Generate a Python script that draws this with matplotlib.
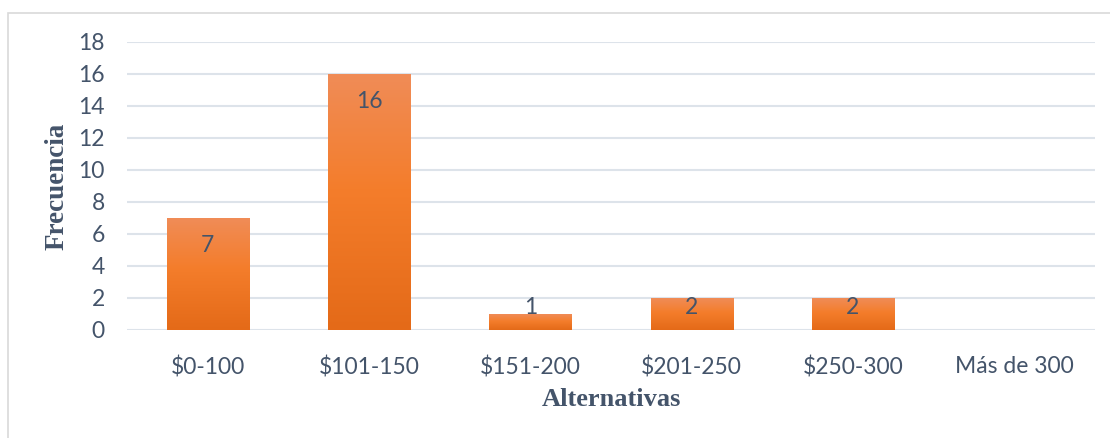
import matplotlib
matplotlib.use("Agg")
import matplotlib.pyplot as plt
import numpy as np
from matplotlib.colors import LinearSegmentedColormap
from matplotlib.patches import Rectangle

# data
categories = ["$0-100", "$101-150", "$151-200", "$201-250", "$250-300", "Más de 300"]
frecuencia = [7, 16, 1, 2, 2, 0]
yticks = list(range(0, 20, 2))

TEXT = "#44546A"
GRID = "#DDE3EA"
grad = LinearSegmentedColormap.from_list(
    "bar", [(0.0, "#E46A18"), (0.55, "#F47D2B"), (1.0, "#F08C57")])

W, H, DPI = 1110, 438, 100
fig = plt.figure(figsize=(W / DPI, H / DPI), dpi=DPI)
ax = fig.add_axes([127 / W, (H - 330) / H, (1095 - 127) / W, 288 / H])

x = np.arange(len(categories))
bars = ax.bar(x, frecuencia, width=0.51, color="none", zorder=3)
# fill each bar with a vertical gradient (lighter at the top like Excel)
gimg = np.linspace(0, 1, 256).reshape(-1, 1)
for b in bars:
    h = b.get_height()
    if h <= 0:
        continue
    x0 = b.get_x()
    im = ax.imshow(gimg, cmap=grad, origin="lower", aspect="auto",
                   extent=[x0, x0 + b.get_width(), 0, h], zorder=3)
    im.set_clip_path(b)

for xi, v in zip(x, frecuencia):
    if v <= 0:
        continue
    ax.text(xi, max(v - 1.69, 1.375), str(v), ha="center", va="center",
            fontsize=16.5, color=TEXT, family="Lato", zorder=4)

ax.set_xlim(-0.5, len(categories) - 0.5)
ax.set_ylim(0, 18)
ax.set_yticks(yticks)
ax.set_xticks(x)
ax.set_xticklabels(categories)
ax.yaxis.grid(True, color=GRID, linewidth=1.5, zorder=0)
ax.set_axisbelow(True)
for s in ax.spines.values():
    s.set_visible(False)
ax.tick_params(length=0, labelsize=16.5, labelcolor=TEXT)
ax.tick_params(axis="y", pad=16)
ax.tick_params(axis="x", pad=19)
for lab in ax.get_xticklabels() + ax.get_yticklabels():
    lab.set_family("Lato")

fig.text(611 / W, 1 - 400 / H, "Alternativas", ha="center", va="center",
         fontsize=19, fontweight="bold", family="Liberation Serif", color=TEXT)
fig.text(57 / W, 1 - 186 / H, "Frecuencia", ha="center", va="center", rotation=90,
         fontsize=19.5, fontweight="bold", family="Liberation Serif", color=TEXT)

# chart area border (only top and left edges fall inside the image)
fig.patches.append(Rectangle((8 / W, -0.1), 1.2, 1 - 13 / H + 0.1,
                             transform=fig.transFigure, fill=False,
                             edgecolor="#D9D9D9", linewidth=1.2))

fig.savefig("out.png", dpi=DPI)
